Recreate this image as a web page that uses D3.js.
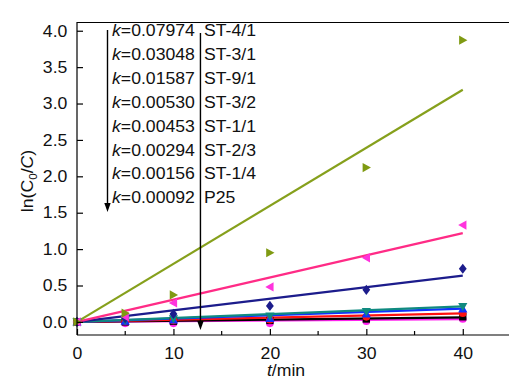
<!DOCTYPE html>
<html><head><meta charset="utf-8">
<script src="https://cdn.jsdelivr.net/npm/d3@7"></script>
<style>body{margin:0;background:#fff}svg{display:block;font-family:"Liberation Sans",Arial,sans-serif}</style>
</head><body><svg id="c" width="509" height="381"></svg>
<script>
const times = [0, 5, 10, 20, 30, 40];
const seriesNames = ["ST-4/1","ST-3/1","ST-9/1","ST-3/2","ST-1/1","ST-2/3","ST-1/4","P25"];
const kValues = ["0.07974","0.03048","0.01587","0.00530","0.00453","0.00294","0.00156","0.00092"];
const vST41 = [0, 0.12, 0.37, 0.95, 2.12, 3.87];
const vST31 = [0, 0.07, 0.26, 0.48, 0.88, 1.33];
const vST91 = [0, 0.05, 0.11, 0.22, 0.44, 0.73];
const vST32 = [0, 0.02, 0.04, 0.08, 0.14, 0.21];
const vST11 = [0, 0.01, 0.03, 0.05, 0.11, 0.18];
const vST23 = [0, 0.01, 0.02, 0.03, 0.07, 0.12];
const vST14 = [0, 0.00, 0.01, 0.02, 0.04, 0.07];
const vP25  = [0, -0.02, -0.02, -0.02, 0.01, 0.04];
const xTicks = [0, 10, 20, 30, 40];
const xMinor = [5, 15, 25, 35];
const yTicks = [0, 0.5, 1.0, 1.5, 2.0, 2.5, 3.0, 3.5, 4.0];

const values = [vST41, vST31, vST91, vST32, vST11, vST23, vST14, vP25];
const lineColors = ["#86a01c","#ff2b86","#1c1c8c","#108a80","#1030ff","#ff1010","#000000","#ff22ee"];
const markColors = ["#7f9a12","#ff33dd","#1c1c8c","#108a80","#1030ff","#ff1010","#000000","#ff22ee"];
const shapes = ["tr","tl","diamond","td","tu","circle","square","circle"];
const FS = 16.5, SX = 1.07;

const svg = d3.select("#c");
const x = d3.scaleLinear().domain([0,45]).range([77,511]);
const y = d3.scaleLinear().domain([-0.18,4.12]).range([335,22]);

svg.append("line").attr("x1",77).attr("x2",509).attr("y1",22.5).attr("y2",22.5).attr("stroke","#000").attr("stroke-width",1.2);

const order = [7,6,5,4,3,2,1,0];
order.forEach(i=>{
  const k = +kValues[i];
  svg.append("line").attr("x1",x(0)).attr("y1",y(0)).attr("x2",x(40)).attr("y2",y(k*40))
    .attr("stroke",lineColors[i]).attr("stroke-width",2.2);
});

function markPath(s, r){
  switch(s){
    case "tr": return `M${-r*0.8},${-r}L${r},0L${-r*0.8},${r}Z`;
    case "tl": return `M${r*0.8},${-r}L${-r},0L${r*0.8},${r}Z`;
    case "td": return `M${-r},${-r*0.8}L${r},${-r*0.8}L0,${r}Z`;
    case "tu": return `M${-r},${r*0.8}L${r},${r*0.8}L0,${-r}Z`;
    case "diamond": return `M0,${-r*1.1}L${r*0.85},0L0,${r*1.1}L${-r*0.85},0Z`;
    case "square": return `M${-r*0.8},${-r*0.8}H${r*0.8}V${r*0.8}H${-r*0.8}Z`;
    default: return d3.symbol(d3.symbolCircle, Math.PI*r*r*0.7)();
  }
}
order.forEach(i=>{
  svg.append("g").selectAll("path").data(times.map((t,j)=>[t,values[i][j]])).join("path")
    .attr("transform",d=>`translate(${x(d[0])},${y(d[1])})`)
    .attr("d",markPath(shapes[i],4.6)).attr("fill",markColors[i]);
});

const xAxis = d3.axisBottom(x).tickValues(xTicks).tickSizeInner(-6).tickSizeOuter(0).tickPadding(12).tickFormat(d3.format("d"));
const gx = svg.append("g").attr("transform","translate(0,335)").call(xAxis);
gx.select(".domain").attr("d","M77,0H509").attr("stroke-width",1.2);
gx.selectAll("text").attr("font-size",FS).attr("fill","#111").attr("font-family","Liberation Sans, Arial, sans-serif").attr("transform",`scale(${SX},1)`);
gx.selectAll(".tick line").attr("stroke-width",1.2);
gx.append("g").selectAll("line").data(xMinor).join("line")
  .attr("x1",d=>x(d)).attr("x2",d=>x(d)).attr("y1",0).attr("y2",-4).attr("stroke","#000").attr("stroke-width",1.2);

const yAxis = d3.axisLeft(y).tickValues(yTicks).tickSizeInner(-6).tickSizeOuter(0).tickPadding(9).tickFormat(d3.format(".1f"));
const gy = svg.append("g").attr("transform","translate(77,0)").call(yAxis);
gy.select(".domain").attr("d","M0,22V335").attr("stroke-width",1.2);
gy.selectAll("text").attr("font-size",FS).attr("fill","#111").attr("font-family","Liberation Sans, Arial, sans-serif").attr("transform",`scale(${SX},1)`);
gy.selectAll(".tick line").attr("stroke-width",1.2);

const xt = svg.append("text").attr("transform",`translate(286,376) scale(${SX},1)`).attr("text-anchor","middle").attr("font-size",FS).attr("fill","#111");
xt.append("tspan").attr("font-style","italic").text("t");
xt.append("tspan").text("/min");

const yt = svg.append("text").attr("transform",`translate(33,181) rotate(-90) scale(${SX},1)`).attr("text-anchor","middle").attr("font-size",FS).attr("fill","#111");
yt.append("tspan").text("ln(C");
yt.append("tspan").attr("font-size",11).attr("dy",4).text("0");
yt.append("tspan").attr("dy",-4).text("/");
yt.append("tspan").attr("font-style","italic").text("C");
yt.append("tspan").text(")");

const lg = svg.append("g");
seriesNames.forEach((n,i)=>{
  const yy = 36 + i*23.9;
  const t = lg.append("text").attr("transform",`translate(112,${yy}) scale(${SX},1)`).attr("font-size",FS).attr("fill","#111");
  t.append("tspan").attr("font-style","italic").text("k");
  t.append("tspan").text("="+kValues[i]);
  lg.append("text").attr("transform",`translate(204,${yy}) scale(${SX},1)`).attr("font-size",FS).attr("fill","#111").text(n);
});

function arrow(xx, y1, y2){
  svg.append("line").attr("x1",xx).attr("x2",xx).attr("y1",y1).attr("y2",y2-7).attr("stroke","#000").attr("stroke-width",1.4);
  svg.append("path").attr("d",`M${xx-3.2},${y2-9}L${xx+3.2},${y2-9}L${xx},${y2}Z`).attr("fill","#000");
}
arrow(107.5, 30, 212);
arrow(x(12.8), 33, 330);
</script></body></html>
